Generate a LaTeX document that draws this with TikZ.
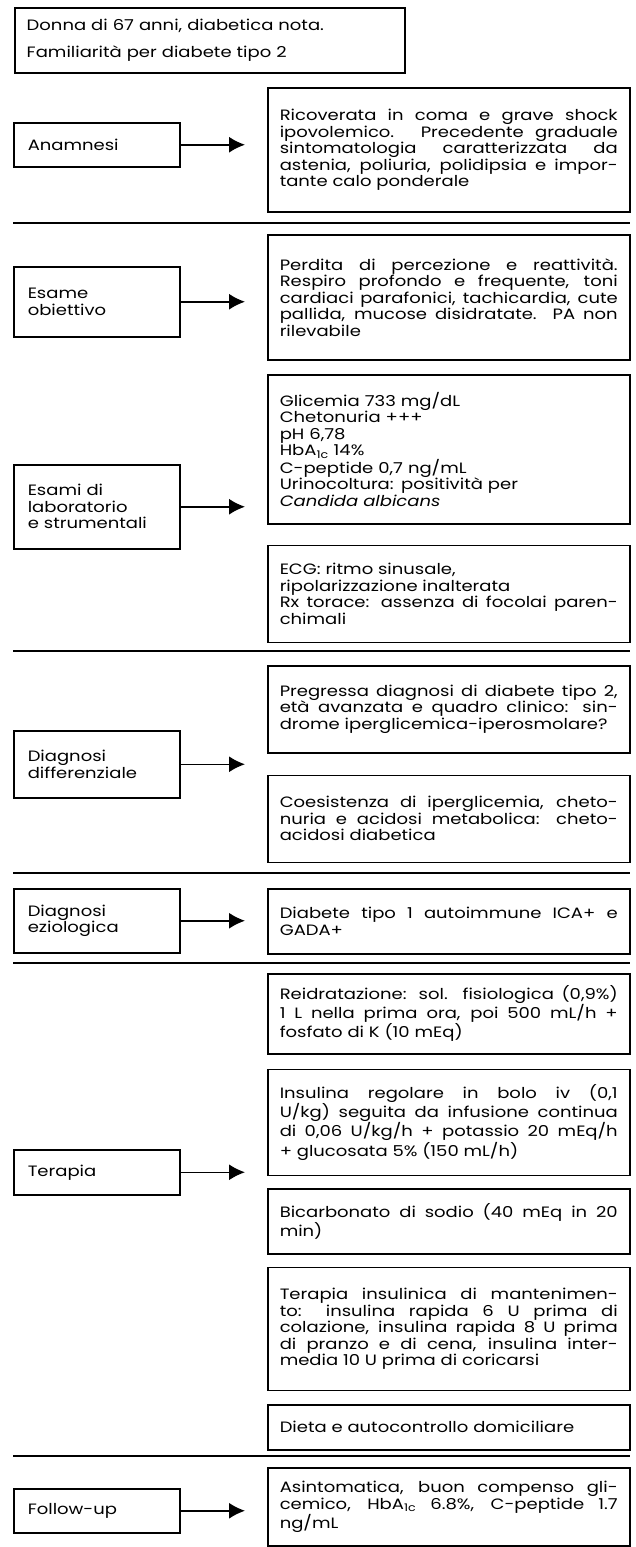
\documentclass[tikz,border=0pt]{standalone}
\usepackage{fontspec}
\setmainfont[FakeStretch=1.2]{Poppins}
\usetikzlibrary{positioning,arrows.meta}

\tikzset{
  box/.style={draw, line width=1.5pt, inner ysep=0pt, font=\fontsize{15}{16.5}\selectfont},
  lbox/.style={box, text width=138pt, inner xsep=14pt, align=left, anchor=north west},
  rbox/.style={box, text width=338pt, inner xsep=12pt, align=justify, anchor=north west},
  freccia/.style={line width=1.5pt, -{Latex[length=16pt,width=16pt]}, shorten >=22pt},
  sep/.style={line width=1.5pt}
}

\begin{document}
\begin{tikzpicture}[x=1pt, y=-1pt]
\useasboundingbox (0,0) rectangle (635,1547);

\node[box, text width=366pt, inner xsep=12pt, minimum height=65pt, anchor=north west, align=left, font=\fontsize{15}{27}\selectfont] (paz) at (14,7) {Donna di 67 anni, diabetica nota.\\Familiarità per diabete tipo 2};

\node[lbox, minimum height=44pt] (anam) at (13,122) {Anamnesi};
\node[rbox, minimum height=124pt] (ricov) at (267,87) {Ricoverata in coma e grave shock\linebreak ipovolemico. Precedente graduale\linebreak sintomatologia caratterizzata da\linebreak astenia, poliuria, polidipsia e impor-\linebreak tante calo ponderale};

\node[lbox, minimum height=70pt] (esame) at (13,266) {Esame\\obiettivo};
\node[rbox, minimum height=125pt] (perd) at (267,234) {Perdita di percezione e reattività.\linebreak Respiro profondo e frequente, toni\linebreak cardiaci parafonici, tachicardia, cute\linebreak pallida, mucose disidratate. PA non\linebreak rilevabile};
\node[lbox, minimum height=84pt] (esami) at (13,464) {Esami di\\laboratorio\\e strumentali};
\node[rbox, minimum height=149pt, align=left] (glic) at (267,374) {Glicemia 733 mg/dL\\Chetonuria +++\\pH 6,78\\HbA\textsubscript{1c} 14\%\\C-peptide 0,7 ng/mL\\Urinocoltura: positività per\\\textit{Candida albicans}};
\node[rbox, minimum height=97pt, below=20pt of glic] (ecg) {ECG: ritmo sinusale,\\ripolarizzazione inalterata\\Rx torace: assenza di focolai paren-\linebreak chimali};

\node[lbox, minimum height=67pt] (ddiff) at (13,730) {Diagnosi\\differenziale};
\node[rbox, minimum height=87pt] (preg) at (267,665) {Pregressa diagnosi di diabete tipo 2,\linebreak età avanzata e quadro clinico: sin-\linebreak drome iperglicemica-iperosmolare?};
\node[rbox, minimum height=87pt, below=21pt of preg] (coes) {Coesistenza di iperglicemia, cheto-\linebreak nuria e acidosi metabolica: cheto-\linebreak acidosi diabetica};

\node[lbox, minimum height=64pt] (deziol) at (13,888) {Diagnosi\\eziologica};
\node[rbox, minimum height=65pt] (diab) at (267,888) {Diabete tipo 1 autoimmune ICA+ e\linebreak GADA+};

\node[lbox, minimum height=45pt] (terap) at (13,1149) {Terapia};
\node[rbox, minimum height=80pt] (reidr) at (267,973) {Reidratazione: sol. fisiologica (0,9\%)\linebreak 1 L nella prima ora, poi 500 mL/h +\linebreak fosfato di K (10 mEq)};
\node[rbox, minimum height=106pt, below=14pt of reidr] (insul) {Insulina regolare in bolo iv (0,1\linebreak U/kg) seguita da infusione continua\linebreak di 0,06 U/kg/h + potassio 20 mEq/h\linebreak + glucosata 5\% (150 mL/h)};
\node[rbox, minimum height=65pt, below=12pt of insul] (bicarb) {Bicarbonato di sodio (40 mEq in 20\linebreak min)};
\node[rbox, minimum height=123pt, below=12pt of bicarb] (tins) {Terapia insulinica di mantenimen-\linebreak to: insulina rapida 6 U prima di\linebreak colazione, insulina rapida 8 U prima\linebreak di pranzo e di cena, insulina inter-\linebreak media 10 U prima di coricarsi};
\node[rbox, minimum height=45pt, below=13pt of tins] (dieta) {Dieta e autocontrollo domiciliare};

\node[lbox, minimum height=44pt] (follow) at (13,1488) {Follow-up};
\node[rbox, minimum height=78pt] (asint) at (267,1467) {Asintomatica, buon compenso gli-\linebreak cemico, HbA\textsubscript{1c} 6.8\%, C-peptide 1.7\linebreak ng/mL};

\draw[freccia] (anam.east) -- (anam.east -| ricov.west);
\draw[freccia] (esame.east) -- (esame.east -| perd.west);
\draw[freccia] (esami.east) -- (esami.east -| glic.west);
\draw[freccia] (ddiff.east) -- (ddiff.east -| preg.west);
\draw[freccia] (deziol.east) -- (deziol.east -| diab.west);
\draw[freccia] (terap.east) -- (terap.east -| insul.west);
\draw[freccia] (follow.east) -- (follow.east -| asint.west);

\foreach \y in {223,651,873,963,1456}
  \draw[sep] (13,\y) -- (630,\y);
\end{tikzpicture}
\end{document}
